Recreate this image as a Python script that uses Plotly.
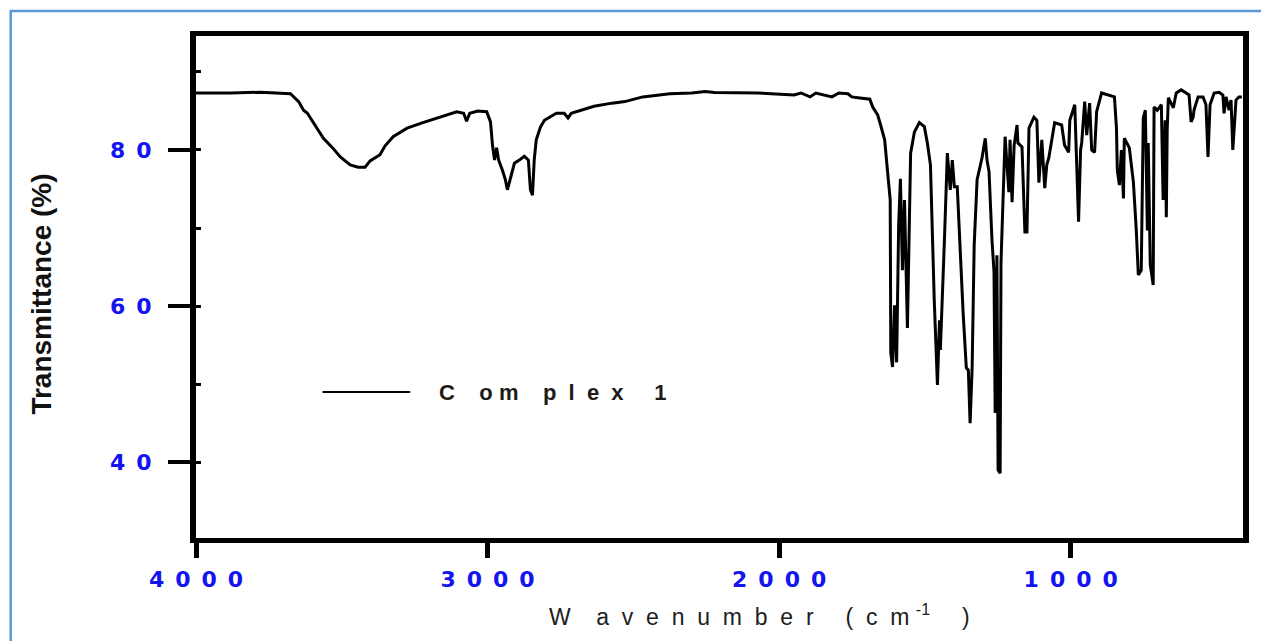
import plotly.graph_objects as go

# FT-IR spectrum of complex 1
wavenumber = [
    4000, 3881, 3778, 3700, 3676, 3648, 3631, 3618, 3597, 3563, 3532, 3505, 3471, 3444,
    3420, 3403, 3369, 3352, 3324, 3276, 3222, 3174, 3106, 3082, 3072, 3061, 3034, 3003,
    2990, 2983, 2976, 2969, 2962, 2949, 2939, 2932, 2925, 2918, 2908, 2891, 2874, 2860,
    2853, 2846, 2840, 2833, 2819, 2805, 2764, 2737, 2724, 2713, 2679, 2635, 2573, 2529,
    2468, 2375, 2300, 2253, 2222, 2072, 1949, 1925, 1894, 1874, 1819, 1795, 1764, 1751,
    1730, 1689, 1679, 1662, 1652, 1638, 1628, 1619, 1617, 1611, 1604, 1597, 1590, 1584,
    1577, 1570, 1560, 1553, 1549, 1536, 1519, 1502, 1492, 1481, 1468, 1457, 1450, 1447,
    1440, 1433, 1423, 1413, 1406, 1399, 1389, 1382, 1369, 1358, 1351, 1345, 1338, 1331,
    1321, 1304, 1293, 1287, 1280, 1270, 1263, 1259, 1253, 1249, 1242, 1239, 1229, 1225,
    1212, 1208, 1201, 1194, 1184, 1181, 1167, 1157, 1150, 1143, 1126, 1116, 1109, 1099,
    1089, 1082, 1075, 1065, 1055, 1031, 1021, 1007, 1003, 986, 980, 973, 966, 962,
    952, 945, 935, 928, 918, 911, 894, 870, 850, 843, 840, 833, 826, 819,
    816, 799, 792, 785, 775, 768, 758, 754, 751, 744, 737, 734, 727, 717,
    714, 703, 689, 683, 676, 672, 669, 665, 648, 638, 621, 604, 594, 587,
    580, 577, 563, 546, 536, 529, 522, 508, 491, 478, 474, 467, 457, 450,
    444, 433, 423, 413,
]
transmittance = [
    87.3, 87.3, 87.4, 87.3, 87.2, 86.2, 85.1, 84.7, 83.5, 81.5, 80.3, 79.1, 78.1, 77.8,
    77.8, 78.6, 79.4, 80.5, 81.7, 82.8, 83.5, 84.1, 84.9, 84.7, 83.7, 84.7, 85.0, 84.9,
    83.6, 80.6, 78.7, 80.3, 78.7, 77.4, 76.2, 74.9, 75.8, 76.8, 78.3, 78.7, 79.2, 78.7,
    74.9, 74.2, 78.7, 81.3, 82.9, 83.8, 84.7, 84.7, 84.1, 84.7, 85.1, 85.6, 86.0, 86.2,
    86.8, 87.2, 87.3, 87.5, 87.35, 87.3, 87.05, 87.3, 86.8, 87.3, 86.8, 87.3, 87.2, 86.8,
    86.7, 86.5, 85.5, 84.5, 83.2, 81.3, 77.2, 73.6, 54.0, 52.2, 60.1, 52.8, 70.4, 76.3,
    64.6, 73.6, 57.2, 71.0, 79.6, 82.3, 83.5, 83.0, 81.0, 78.1, 60.8, 49.9, 58.2, 54.4,
    60.8, 68.5, 79.6, 74.9, 78.7, 75.3, 75.3, 69.4, 59.2, 52.1, 51.8, 45.0, 52.1, 67.8,
    76.2, 79.0, 81.5, 78.7, 77.2, 68.5, 64.4, 46.3, 66.5, 39.0, 38.6, 65.6, 77.8, 81.7,
    74.6, 81.3, 73.3, 80.6, 83.2, 80.9, 80.4, 69.5, 69.5, 82.8, 84.2, 83.8, 75.8, 81.3,
    75.1, 78.1, 79.0, 81.5, 83.5, 83.2, 80.6, 79.7, 83.8, 85.8, 80.0, 70.8, 80.0, 81.0,
    86.2, 81.9, 86.0, 80.0, 79.7, 84.9, 87.3, 87.05, 86.8, 82.8, 77.4, 75.5, 80.0, 73.8,
    81.5, 80.3, 78.1, 75.9, 69.7, 64.0, 64.6, 78.7, 84.1, 85.1, 69.7, 80.9, 65.3, 62.7,
    85.5, 85.1, 85.8, 73.6, 83.8, 71.4, 82.6, 86.7, 85.4, 87.3, 87.7, 87.3, 87.05, 83.6,
    84.2, 85.1, 86.8, 86.8, 85.8, 79.1, 85.8, 87.3, 87.4, 87.05, 84.7, 86.8, 85.1, 86.4,
    80.0, 86.4, 86.8, 86.8,
]

x_tick_values = [4000, 3000, 2000, 1000]
x_tick_labels = ["4000", "3000", "2000", "1000"]
y_tick_values = [40, 60, 80]
y_tick_labels = ["40", "60", "80"]
y_minor_values = [40, 50, 60, 70, 80, 90]

series_name = "Complex 1"
y_title = "Transmittance (%)"

NB = "\u00a0"
EN = "\u2002"


def spaced(text, sep):
    """Spread the characters of a label apart."""
    return sep.join(text)


W, H = 1261, 641
L, R, T, B = 196, 14, 36, 103
PW, PH = W - L - R, H - T - B


def px(x):
    return (x - L) / PW


def py(y):
    return (H - B - y) / PH


fig = go.Figure()
fig.add_trace(go.Scatter(
    x=wavenumber, y=transmittance, mode="lines",
    line=dict(color="black", width=3), name=series_name, showlegend=False,
))

tick_font = dict(family="DejaVu Sans", size=22, color="#1414f0", weight="bold")

fig.update_layout(
    width=W, height=H,
    margin=dict(l=L, r=R, t=T, b=B, pad=0),
    paper_bgcolor="white", plot_bgcolor="white",
    showlegend=False,
    xaxis=dict(
        range=[4000, 409], autorange=False,
        showgrid=False, zeroline=False,
        showline=True, linecolor="black", linewidth=5, mirror=True,
        ticks="outside", ticklen=15, tickwidth=5, tickcolor="black",
        tickvals=x_tick_values, ticktext=[spaced(t, EN) for t in x_tick_labels],
        tickfont=tick_font, ticklabelstandoff=3,
    ),
    yaxis=dict(
        range=[30.3, 94.6], autorange=False,
        showgrid=False, zeroline=False,
        showline=True, linecolor="black", linewidth=6, mirror=True,
        ticks="outside", ticklen=22, tickwidth=4, tickcolor="black",
        tickvals=y_tick_values, ticktext=[spaced(t, EN) for t in y_tick_labels],
        tickfont=tick_font, ticklabelstandoff=12,
        minor=dict(ticks="inside", tickvals=y_minor_values, ticklen=5,
                   tickwidth=3, tickcolor="black", showgrid=False),
    ),
    yaxis2=dict(
        range=[30.3, 94.6], autorange=False, overlaying="y", side="right",
        showgrid=False, zeroline=False, showline=False,
        ticks="outside", ticklen=13, tickwidth=3, tickcolor="black",
        tickvals=y_minor_values, showticklabels=False,
    ),
)

# outer frame around the figure
fig.add_shape(type="rect", xref="paper", yref="paper",
              x0=px(10), x1=px(1275), y0=py(660), y1=py(11),
              line=dict(color="#5b9bd5", width=2.5), fillcolor="rgba(0,0,0,0)",
              layer="below")

# in-plot key
fig.add_shape(type="line", xref="paper", yref="paper",
              x0=px(323), x1=px(411), y0=py(392), y1=py(392),
              line=dict(color="black", width=2.2))
key_text = ("C" + NB * 4 + "o" + NB + "m" + NB * 4 + "p" + NB * 2 + "l" + NB * 2
            + "e" + NB * 2 + "x" + NB * 5 + "1")
fig.add_annotation(xref="paper", yref="paper", x=px(438), y=py(392),
                   xanchor="left", yanchor="middle", showarrow=False,
                   text=key_text,
                   font=dict(family="Liberation Sans", size=22, color="#1e1a16", weight="bold"))

# axis titles
xt = ("W" + NB * 4 + spaced("avenumber", NB * 2) + NB * 5 + spaced("(cm", NB * 2)
      + NB + "<sup>-1</sup>" + NB * 5 + ")")
fig.add_annotation(xref="paper", yref="paper", x=px(548), y=py(615),
                   xanchor="left", yanchor="middle", showarrow=False,
                   text=xt,
                   font=dict(family="Liberation Sans", size=23, color="#202020"))
fig.add_annotation(xref="paper", yref="paper", x=px(40), y=py(294),
                   xanchor="center", yanchor="middle", showarrow=False,
                   textangle=-90, text=y_title,
                   font=dict(family="Liberation Sans", size=28, color="#111111", weight="bold"))

fig.write_html("out.html")
